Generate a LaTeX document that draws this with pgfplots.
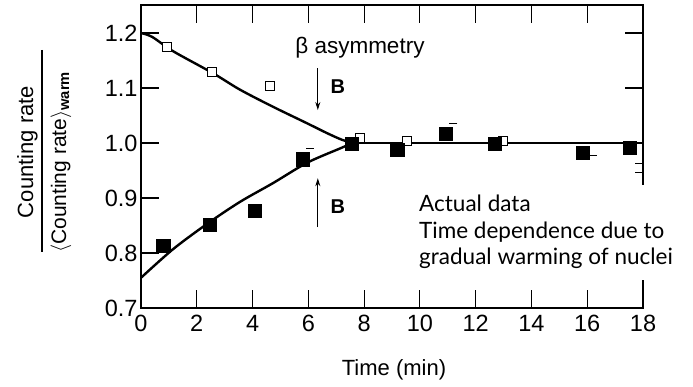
\documentclass[border=0pt]{standalone}
\usepackage{pgfplots}
\pgfplotsset{compat=1.18}
\usetikzlibrary{arrows.meta}
\usepackage{fontspec}
\setmainfont{Liberation Sans}
\newfontfamily\lato{Lato}
\begin{document}
\begin{tikzpicture}
\useasboundingbox (0pt,0pt) rectangle (693pt,386pt);
\begin{axis}[
  at={(141pt,78pt)}, anchor=south west,
  scale only axis, width=502pt, height=303pt,
  xmin=0, xmax=18, ymin=0.7, ymax=1.251,
  xtick={0,2,4,6,8,10,12,14,16,18},
  ytick={0.7,0.8,0.9,1.0,1.1,1.2},
  tick align=inside, major tick length=18pt,
  tick style={line width=1.1pt, black},
  axis line style={line width=1.8pt},
  every axis plot/.append style={line width=2.4pt},
  /pgf/number format/assume math mode=true,
  ticklabel style={font=\fontsize{23.5}{28}\selectfont},
  xticklabel style={yshift=-4pt},
  yticklabel style={/pgf/number format/.cd, fixed, fixed zerofill, precision=1},
  clip=false,
]
% theory curves
\addplot[black, smooth, no markers] coordinates {
 (0,1.2) (0.4,1.193) (1.15,1.167) (2.58,1.127) (3.55,1.097) (4.73,1.066) (5.95,1.036) (6.67,1.018) (7.2,1.006) (7.6,1.0)};
\addplot[black, smooth, no markers] coordinates {
 (0,0.755) (1.15,0.807) (2.37,0.853) (3.55,0.893) (4.73,0.927) (5.95,0.964) (7.13,0.99) (7.6,1.0)};
\addplot[black, sharp plot, no markers] coordinates {(7.6,1.0) (18,1.0)};
% open squares
\addplot[only marks, mark=square*, mark size=4.5pt, mark options={fill=white, draw=black, line width=1pt}] coordinates {
 (0.95,1.175) (2.55,1.13) (4.62,1.103) (7.85,1.009) (9.53,1.004) (12.98,1.004)};
% dashes (partly hidden open points)
\addplot[only marks, mark=-, mark size=4pt, mark options={line width=1pt, black}] coordinates {
 (6.05,0.99) (11.2,1.035) (16.2,0.978) (17.85,0.963) (17.85,0.947)};
% filled squares
\addplot[only marks, mark=square*, mark size=6pt, mark options={fill=black, draw=black}] coordinates {
 (0.8,0.813) (2.47,0.851) (4.09,0.876) (5.8,0.97) (7.57,0.998) (9.2,0.987) (10.93,1.016) (12.7,0.998) (15.84,0.982) (17.53,0.991)};
% arrows and labels
\draw[-{Stealth[length=8pt,width=5pt]}, line width=1pt] (axis cs:6.34,1.136) -- (axis cs:6.34,1.06);
\draw[-{Stealth[length=8pt,width=5pt]}, line width=1pt] (axis cs:6.34,0.847) -- (axis cs:6.34,0.936);
\node[font=\fontsize{20}{22}\selectfont\bfseries] at (axis cs:7.06,1.102) {B};
\node[font=\fontsize{20}{22}\selectfont\bfseries] at (axis cs:7.06,0.884) {B};
\node[font=\fontsize{22.5}{26}\selectfont] at (axis cs:7.85,1.173) {β asymmetry};
\end{axis}
% hide the right spine behind the annotation
\fill[white] (620pt,106pt) rectangle (655pt,201pt);
% annotation
\node[anchor=base west, inner sep=0pt, font=\lato\fontsize{22.5}{26}\selectfont] at (419pt,175pt) {Actual data};
\node[anchor=base west, inner sep=0pt, font=\lato\fontsize{22.5}{26}\selectfont] at (419pt,148pt) {Time dependence due to};
\node[anchor=base west, inner sep=0pt, font=\lato\fontsize{22.5}{26}\selectfont] at (419pt,122pt) {gradual warming of nuclei};
% x label
\node[font=\fontsize{22}{26}\selectfont] at (394pt,16pt) {Time (min)};
% y label (fraction)
\node[rotate=90, anchor=base, inner sep=0pt, font=\fontsize{22}{24}\selectfont] at (33pt,234pt) {Counting rate};
\draw[line width=1.2pt] (42pt,336pt) -- (42pt,134pt);
\node[rotate=90, anchor=base west, inner sep=0pt, font=\fontsize{21}{24}\selectfont] at (66pt,133pt) {$\langle$Counting rate$\rangle$\textsubscript{\textbf{warm}}};
\end{tikzpicture}
\end{document}
